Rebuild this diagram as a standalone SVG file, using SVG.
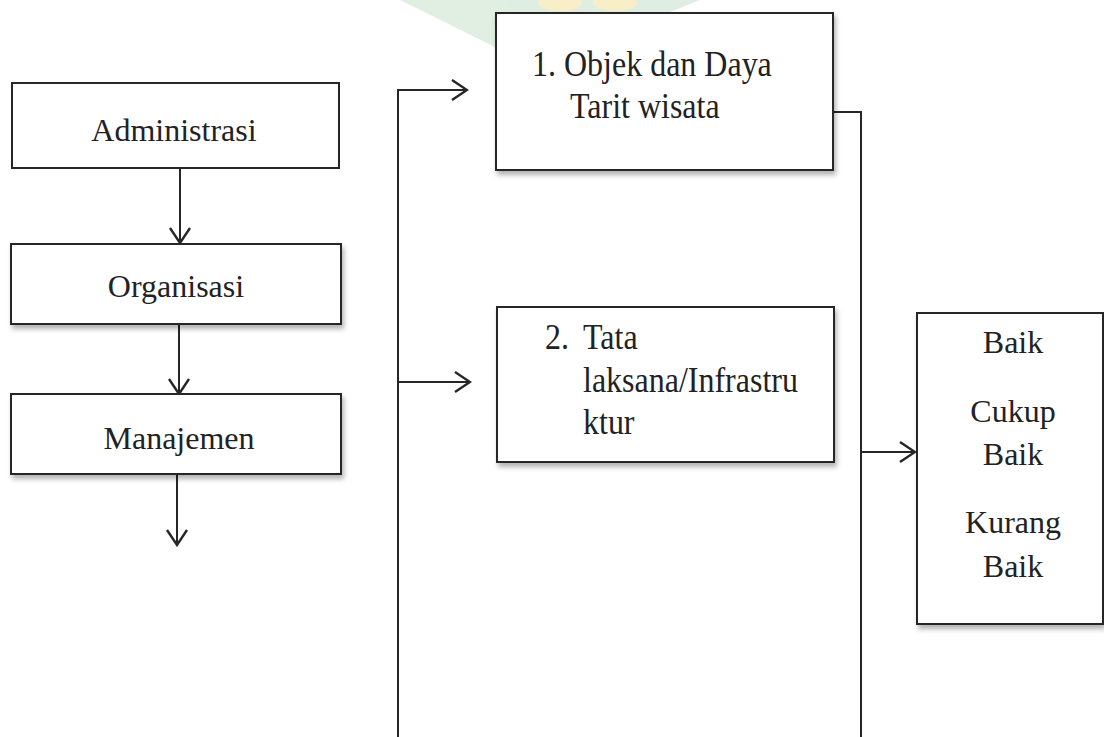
<svg xmlns="http://www.w3.org/2000/svg" width="1104" height="737" viewBox="0 0 1104 737">
<style>
.box{fill:#fff;stroke:#262626;stroke-width:2}
.ln{fill:none;stroke:#262626;stroke-width:2}
.t{font-family:"Liberation Serif","Times New Roman",serif;font-size:32px;fill:#222}
.c{text-anchor:middle}
</style>
<defs>
<filter id="sh" x="-10%" y="-10%" width="130%" height="140%">
<feDropShadow dx="2" dy="4" stdDeviation="2.5" flood-color="#000" flood-opacity="0.3"/>
</filter>
<marker id="ah" viewBox="0 0 18 24" refX="16" refY="12" markerWidth="18" markerHeight="24" markerUnits="userSpaceOnUse" orient="auto">
<path d="M1,2 L16,12 L1,22" fill="none" stroke="#262626" stroke-width="2.4"/>
</marker>
</defs>
<rect width="1104" height="737" fill="#fff"/>
<g id="watermark" opacity="0.45">
<path d="M400,0 L700,0 L575,50 L530,62 L505,52 Z" fill="#bcd9bf"/>
<ellipse cx="560" cy="3" rx="22" ry="8" fill="#f0dc8a"/>
<ellipse cx="615" cy="3" rx="22" ry="8" fill="#f0dc8a"/>
</g>
<g id="connectors">
<line class="ln" x1="180" y1="168" x2="180" y2="243" marker-end="url(#ah)"/>
<line class="ln" x1="179" y1="324" x2="179" y2="394" marker-end="url(#ah)"/>
<line class="ln" x1="177" y1="474" x2="177" y2="545" marker-end="url(#ah)"/>
<path class="ln" d="M398,737 L398,90 L467,90" marker-end="url(#ah)"/>
<line class="ln" x1="398" y1="382" x2="470" y2="382" marker-end="url(#ah)"/>
<path class="ln" d="M834,112 L861,112 L861,737"/>
<line class="ln" x1="861" y1="452" x2="915" y2="452" marker-end="url(#ah)"/>
</g>
<g id="administrasi">
<rect class="box" x="12" y="83" width="327" height="85"/>
<text class="t c" x="174" y="141">Administrasi</text>
</g>
<g id="organisasi">
<rect class="box" x="11" y="244" width="330" height="80" filter="url(#sh)"/>
<text class="t c" x="176" y="297">Organisasi</text>
</g>
<g id="manajemen">
<rect class="box" x="11" y="394" width="330" height="80" filter="url(#sh)"/>
<text class="t c" x="179" y="449">Manajemen</text>
</g>
<g id="objek">
<rect class="box" x="496" y="13" width="337" height="157" filter="url(#sh)"/>
<text class="t" transform="translate(532,76) scale(1,1.15)">1. Objek dan Daya</text>
<text class="t" transform="translate(570,118) scale(1,1.15)">Tarit wisata</text>
</g>
<g id="tatalaksana">
<rect class="box" x="497" y="307" width="337" height="155" filter="url(#sh)"/>
<text class="t" transform="translate(545,349) scale(1,1.15)">2.</text>
<text class="t" transform="translate(583,349) scale(1,1.15)">Tata</text>
<text class="t" transform="translate(583,392) scale(1,1.15)">laksana/Infrastru</text>
<text class="t" transform="translate(583,434) scale(1,1.15)">ktur</text>
</g>
<g id="hasil">
<rect class="box" x="917" y="313" width="186" height="311" filter="url(#sh)"/>
<text class="t c" x="1013" y="353">Baik</text>
<text class="t c" x="1013" y="422">Cukup</text>
<text class="t c" x="1013" y="465">Baik</text>
<text class="t c" x="1013" y="533">Kurang</text>
<text class="t c" x="1013" y="577">Baik</text>
</g>
</svg>
